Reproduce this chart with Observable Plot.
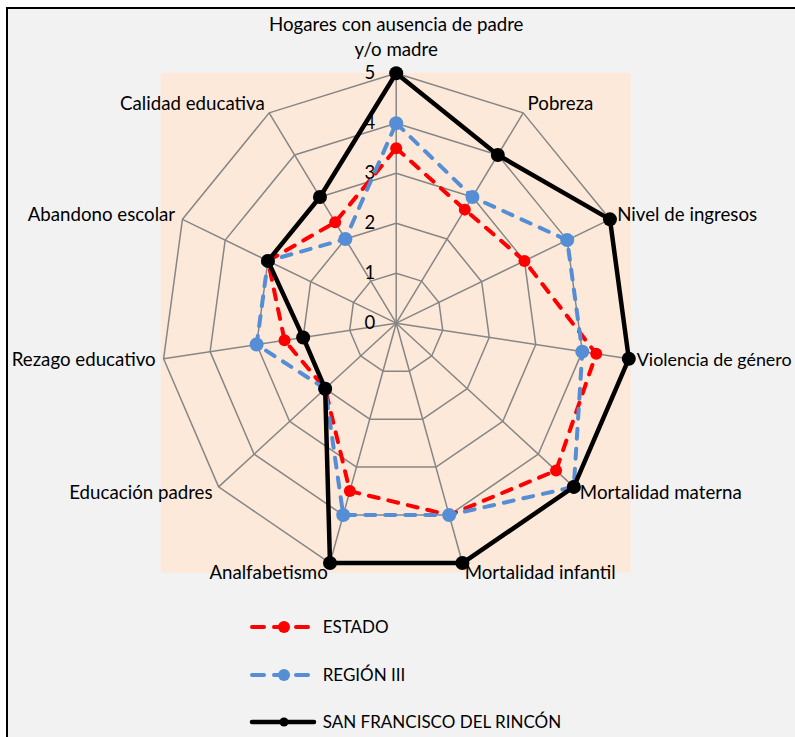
<!DOCTYPE html>
<html><head><meta charset="utf-8">
<script src="https://cdn.jsdelivr.net/npm/d3@7"></script>
<script src="https://cdn.jsdelivr.net/npm/@observablehq/plot@0.6"></script>
<style>
html,body{margin:0;padding:0;background:#fff;}
#wrap{position:relative;width:795px;height:737px;overflow:hidden;font-family:Lato,sans-serif;}
#frame{position:absolute;left:6px;top:7px;width:900px;height:900px;border:2px solid #000;background:#f2f2f2;}
#chart{position:absolute;left:0;top:0;}
#legend{position:absolute;left:0;top:600px;}
</style></head><body>
<div id="wrap"><div id="frame"></div><div id="chart"></div><div id="legend"></div></div>
<script>
// ---- data ----
const categories = ["Hogares con ausencia de padre\ny/o madre", "Pobreza", "Nivel de ingresos", "Violencia de género",
  "Mortalidad materna", "Mortalidad infantil", "Analfabetismo", "Educación padres",
  "Rezago educativo", "Abandono escolar", "Calidad educativa"];
const estado       = [3.5, 2.7, 3, 4.3, 4.5, 4, 3.5, 2, 2.4, 3, 2.4];
const region       = [4,   3,   4, 4,   5,   4, 4,   2, 3,   3, 2];
const sanFrancisco = [5,   4,   5, 5,   5,   5, 5,   2, 2,   3, 3];
const seriesNames  = ["ESTADO", "REGIÓN III", "SAN FRANCISCO DEL RINCÓN"];
const tickValues   = [0, 1, 2, 3, 4, 5];
const maxValue = 5;

// ---- layout / style ----
const W = 795, H = 600;
const CX = 395.7, CY = 322.7, SX = 47, SY = 50; // pixel centre and pixels per unit
const colors = ["#ff0000", "#558ed5", "#000000"];
const dashes = ["10,10", "10,10", null];
const widths = [4, 4, 4.5];
const radii = [6, 7, 7];
const gridColor = "#868686";
const labelSize = 18.7;

const n = categories.length;
const ang = i => i * 2 * Math.PI / n;
const px = (v, i) => v * Math.sin(ang(i));
const py = (v, i) => v * Math.cos(ang(i));

const ringPts = [];
for (let level = 1; level <= maxValue; level++)
  categories.forEach((c, i) => ringPts.push({level, x: px(level, i), y: py(level, i)}));
const spokes = categories.map((c, i) => ({x2: px(maxValue, i), y2: py(maxValue, i)}));

const seriesValues = [estado, region, sanFrancisco];
const seriesPts = seriesValues.map((vals, s) => vals.map((v, i) => ({series: seriesNames[s], x: px(v, i), y: py(v, i)})));

const labels = categories.map((c, i) => {
  const s = Math.sin(ang(i)), co = Math.cos(ang(i));
  return {text: c, i, s,
    size: i === 3 ? 17.9 : labelSize,
    x: px(maxValue, i) + 8 * s / SX,
    y: py(maxValue, i) + 10 * co / SY};
});

const marks = [
  Plot.rect([{x1: -maxValue, x2: maxValue, y1: -maxValue, y2: maxValue}], {x1: "x1", x2: "x2", y1: "y1", y2: "y2", fill: "#fde9d9"}),
  Plot.line(ringPts, {x: "x", y: "y", z: "level", curve: "linear-closed", stroke: gridColor, strokeWidth: 1.5}),
  Plot.link(spokes, {x1: 0, y1: 0, x2: "x2", y2: "y2", stroke: gridColor, strokeWidth: 1.5}),
  Plot.text(tickValues, {x: 0, y: d => d, text: d => String(d), textAnchor: "end", dx: -21, fontSize: 18.5, fill: "#000"}),
];
seriesPts.forEach((pts, s) => {
  marks.push(Plot.line(pts, {x: "x", y: "y", curve: "linear-closed", stroke: colors[s], strokeWidth: widths[s],
    strokeDasharray: dashes[s] || undefined, strokeLinecap: "round", strokeLinejoin: "round"}));
  marks.push(Plot.dot(pts, {x: "x", y: "y", r: radii[s], fill: colors[s], stroke: "none"}));
});
marks.push(
  Plot.text(labels.filter(d => d.i === 0), {x: "x", y: d => py(maxValue, 0), text: "text", textAnchor: "middle", lineAnchor: "bottom", dy: -17, lineHeight: 1.33, fontSize: labelSize, fill: "#000"}),
  Plot.text(labels.filter(d => d.i > 0 && d.s > 0), {x: "x", y: "y", text: "text", textAnchor: "start", lineAnchor: "middle", fontSize: "size", fill: "#000"}),
  Plot.text(labels.filter(d => d.i > 0 && d.s < 0), {x: "x", y: "y", text: "text", textAnchor: "end", lineAnchor: "middle", fontSize: "size", fill: "#000"})
);

const chart = Plot.plot({
  width: W, height: H, margin: 0,
  x: {domain: [-CX / SX, (W - CX) / SX], axis: null},
  y: {domain: [(CY - H) / SY, CY / SY], axis: null},
  style: {background: "transparent", fontFamily: "Lato, sans-serif", fontSize: "18px", color: "#000", overflow: "visible"},
  marks
});
document.getElementById("chart").append(chart);

// ---- legend ----
const leg = d3.select("#legend").append("svg").attr("width", W).attr("height", 137)
  .style("font-family", "Lato, sans-serif");
const rowY = [27, 75, 122];
seriesNames.forEach((name, s) => {
  const g = leg.append("g");
  g.append("line").attr("x1", 252).attr("x2", s === 2 ? 314 : 309).attr("y1", rowY[s]).attr("y2", rowY[s])
    .attr("stroke", colors[s]).attr("stroke-width", s === 2 ? 4.5 : 4)
    .attr("stroke-dasharray", s === 2 ? null : "12,10").attr("stroke-linecap", "round");
  g.append("circle").attr("cx", 284).attr("cy", rowY[s]).attr("r", s === 2 ? 4.5 : 6).attr("fill", colors[s]);
  g.append("text").attr("x", 322.7).attr("y", rowY[s]).attr("dy", "0.35em").attr("font-size", 17).attr("fill", "#000").text(name);
});
</script>
</body></html>
